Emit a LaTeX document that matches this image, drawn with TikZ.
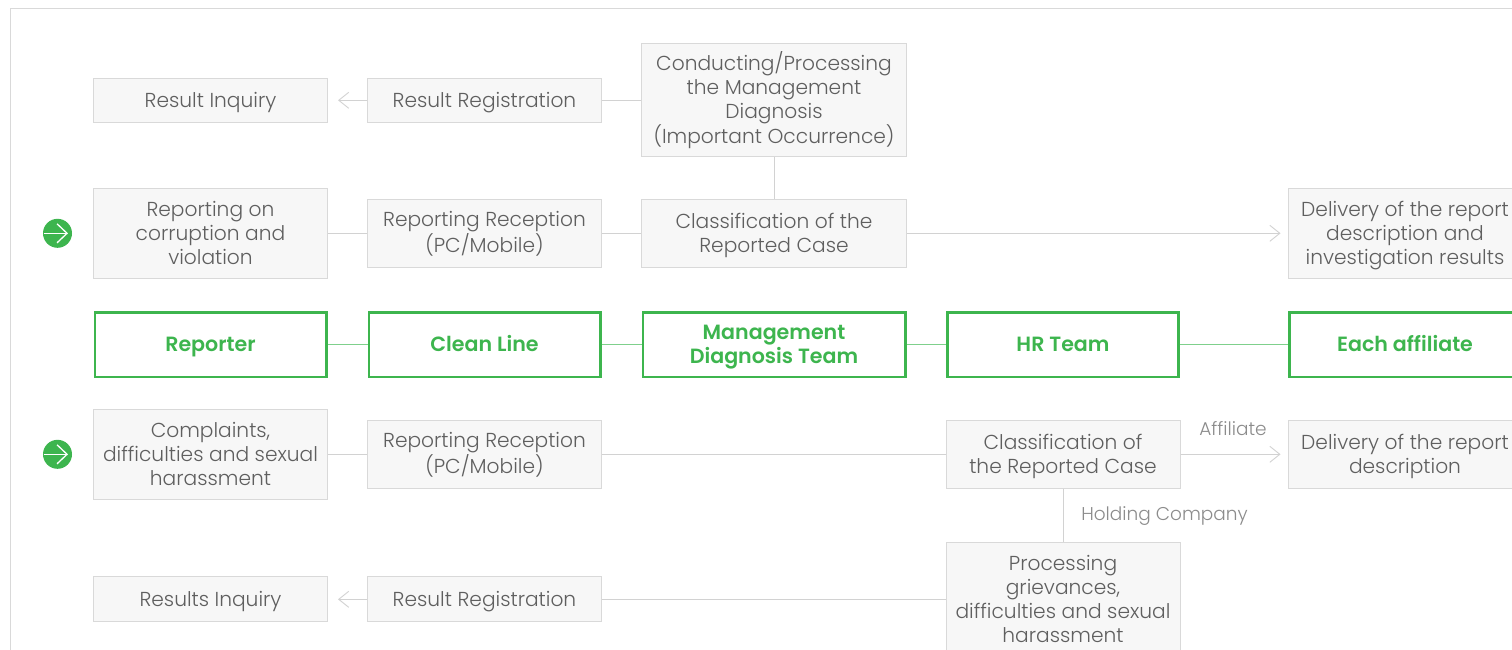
\documentclass[tikz,border=0pt]{standalone}
\usepackage{fontspec}
\setmainfont{Poppins Light}[BoldFont={Poppins SemiBold}]
\usetikzlibrary{arrows.meta}
\definecolor{boxline}{HTML}{D9D9D9}
\definecolor{boxfill}{HTML}{F7F7F7}
\definecolor{boxtext}{HTML}{5F5F5F}
\definecolor{linkgray}{HTML}{D2D2D2}
\definecolor{brand}{HTML}{3DB54E}
\definecolor{brandlight}{HTML}{7FD08C}
\definecolor{labelgray}{HTML}{8C8C8C}
\tikzset{
  x=1pt,y=-1pt,
  greybox/.style={draw=boxline,fill=boxfill,line width=1pt,text=boxtext,align=center,inner sep=0pt,
     font=\fontsize{20.2}{24}\selectfont},
  w1/.style={minimum width=234pt},
  w3/.style={minimum width=265pt},
  greenbox/.style={draw=brand,fill=white,line width=2.8pt,text=brand,align=center,inner sep=0pt,
     font=\fontsize{20.6}{24}\selectfont\bfseries,minimum height=64.6pt},
  gw1/.style={minimum width=231.2pt},
  gw3/.style={minimum width=262.2pt},
  one/.style={text height=19pt,text depth=5pt},
  two/.style={text height=43pt,text depth=5pt},
  three/.style={text height=67pt,text depth=5pt},
  four/.style={text height=91pt,text depth=5pt},
  link/.style={draw=linkgray,line width=1pt},
  greenlink/.style={draw=brandlight,line width=1pt},
  arrowlink/.style={link,-{Straight Barb[length=10pt,width=16pt,line width=0.9pt]}},
  edgelabel/.style={text=labelgray,font=\fontsize{18.5}{22}\selectfont,inner sep=0pt},
  badge/.style={circle,fill=brand,minimum size=29pt,inner sep=0pt},
  badgearrow/.style={draw=white,line width=1.3pt,-{Straight Barb[length=10pt,width=19pt,line width=1.3pt]}},
}
\begin{document}
\begin{tikzpicture}
\useasboundingbox (0,0) rectangle (1512,650);
\clip (0,0) rectangle (1512,650);
\fill[white] (0,0) rectangle (1512,650);
\draw[draw=boxline,line width=1pt] (1530,8.8) -- (10.8,8.8) -- (10.8,670);

% top row
\node[greybox,w1,one,minimum height=44pt] (inq1) at (210.5,100.3) {Result Inquiry};
\node[greybox,w1,one,minimum height=44pt] (reg1) at (484.5,100.3) {Result Registration};
\node[greybox,w3,four,minimum height=113pt] (diag) at (774,100.3) {Conducting/Processing\\the Management\\Diagnosis\\(Important Occurrence)};
% second row
\node[greybox,w1,three,minimum height=90pt] (rep1) at (210.5,233.3) {Reporting on\\corruption and\\violation};
\node[greybox,w1,two,minimum height=68pt] (rec1) at (484.5,233.3) {Reporting Reception\\(PC/Mobile)};
\node[greybox,w3,two,minimum height=68pt] (cls1) at (774,233.3) {Classification of the\\Reported Case};
\node[greybox,w1,three,minimum height=90pt] (del1) at (1405,233.3) {Delivery of the report\\description and\\investigation results};
% green row
\node[greenbox,gw1,one] (g1) at (210.5,344.7) {Reporter};
\node[greenbox,gw1,one] (g2) at (484.5,344.7) {Clean Line};
\node[greenbox,gw3,two] (g3) at (774,344.7) {Management\\Diagnosis Team};
\node[greenbox,gw1,one] (g4) at (1063,344.7) {HR Team};
\node[greenbox,gw1,one] (g5) at (1405,344.7) {Each affiliate};
% fourth row
\node[greybox,w1,three,minimum height=90pt] (rep2) at (210.5,454.3) {Complaints,\\difficulties and  sexual\\harassment};
\node[greybox,w1,two,minimum height=68pt] (rec2) at (484.5,454.3) {Reporting Reception\\(PC/Mobile)};
\node[greybox,w1,two,minimum height=68pt] (cls2) at (1063,454.3) {Classification of\\the Reported Case};
\node[greybox,w1,two,minimum height=68pt] (del2) at (1405,454.3) {Delivery of the report\\description};
% fifth row
\node[greybox,w1,one,minimum height=45pt] (inq2) at (210.5,599.3) {Results Inquiry};
\node[greybox,w1,one,minimum height=45pt] (reg2) at (484.5,599.3) {Result Registration};
\node[greybox,w1,four,minimum height=113pt] (proc) at (1063,599.3) {Processing\\grievances,\\difficulties and sexual\\harassment};
% badges
\node[badge] (b1) at (57.5,233.3) {};
\node[badge] (b2) at (57.5,454.3) {};
\foreach \b in {b1,b2}{
  \draw[badgearrow] ([xshift=-14pt]\b.center) -- ([xshift=10.5pt]\b.center);
}
% labels
\node[edgelabel] (lab1) at (1233,429) {Affiliate};
\node[edgelabel] (lab2) at (1164.5,516) {Holding Company};
% connectors
\draw[arrowlink,shorten >=10pt] (reg1) -- (inq1);
\draw[link] (diag) -- (reg1);
\draw[link] (cls1) -- (diag);
\draw[link] (rep1) -- (rec1);
\draw[link] (rec1) -- (cls1);
\draw[arrowlink,shorten >=7pt] (cls1) -- (del1);
\draw[greenlink] (g1) -- (g2);
\draw[greenlink] (g2) -- (g3);
\draw[greenlink] (g3) -- (g4);
\draw[greenlink] (g4) -- (g5);
\draw[link] (rep2) -- (rec2);
\draw[link] (rec2) -- (cls2);
\draw[arrowlink,shorten >=7pt] (cls2) -- (del2);
\draw[link] (cls2) -- (proc);
\draw[link] (proc) -- (reg2);
\draw[arrowlink,shorten >=10pt] (reg2) -- (inq2);
\end{tikzpicture}
\end{document}
